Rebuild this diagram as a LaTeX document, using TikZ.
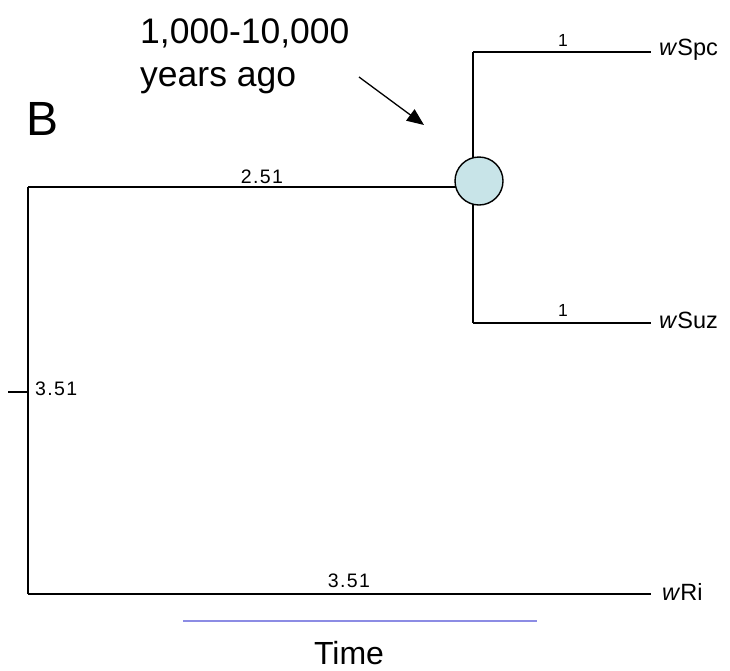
\documentclass[tikz,border=0pt]{standalone}
\usepackage{fontspec}
\setmainfont{Liberation Sans}
\newfontfamily\numfont[LetterSpace=7]{Liberation Sans}
\usetikzlibrary{arrows.meta}
\definecolor{nodefill}{RGB}{200,228,232}
\definecolor{timeblue}{RGB}{140,140,228}
\begin{document}
\begin{tikzpicture}[x=1pt,y=-1pt,
  branch/.style={line width=1.4pt, black},
  blab/.style={font=\numfont\fontsize{19.5}{19.5}\selectfont, anchor=base, inner sep=0pt},
  onelab/.style={font=\fontsize{17.5}{17.5}\selectfont, anchor=base, inner sep=0pt},
  taxon/.style={font=\fontsize{23.5}{23.5}\selectfont, anchor=base west, inner sep=0pt},
  bigtext/.style={font=\fontsize{35.5}{35.5}\selectfont, anchor=base west, inner sep=0pt},
  ancnode/.style={circle, draw, fill=nodefill, line width=1.4pt, minimum size=48pt, inner sep=0pt}]
\useasboundingbox (0,0) rectangle (730,670);

% coordinates
\coordinate (stub) at (8,392);
\coordinate (root) at (28,392);
\coordinate (rtop) at (28,187);
\coordinate (rbot) at (28,594);
\coordinate (ajoin) at (473,187);
\coordinate (atop) at (473,52);
\coordinate (abot) at (473,323);
\coordinate (spcend) at (651,52);
\coordinate (suzend) at (651,323);
\coordinate (riend) at (651,594);

% branches
\draw[branch] (stub) -- (root);
\draw[branch] (rtop) -- (rbot);
\draw[branch] (rtop) -- (ajoin);
\draw[branch] (atop) -- (abot);
\draw[branch] (atop) -- (spcend);
\draw[branch] (abot) -- (suzend);
\draw[branch] (rbot) -- (riend);

% ancestor node
\node[ancnode] (anc) at (479,181) {};

% branch labels
\node[blab] (l251) at (262,183) {2.51};
\node[blab, anchor=base west] (lroot) at (35,395) {3.51};
\node[blab] (lri) at (349,587) {3.51};
\node[onelab] (lspc) at (563,46) {1};
\node[onelab] (lsuz) at (563,316) {1};

% taxa
\node[taxon] (tspc) at (659,55) {\textit{w}Spc};
\node[taxon] (tsuz) at (659,328) {\textit{w}Suz};
\node[taxon] (tri) at (662,600) {\textit{w}Ri};

% annotation
\node[bigtext] (title1) at (140,43) {1,000-10,000};
\node[bigtext] (title2) at (140,86) {years ago};
\node[font=\fontsize{48}{48}\selectfont, anchor=base west, inner sep=0pt] (panel) at (26,135) {B};
\coordinate (arrs) at (359,77);
\coordinate (arre) at (424,125);
\draw[line width=1.3pt, -{Triangle[length=17pt,width=14pt]}] (arrs) -- (arre);

% time axis
\coordinate (tl) at (183,621);
\coordinate (tr) at (537,621);
\draw[timeblue, line width=2pt] (tl) -- (tr);
\node[font=\fontsize{32}{32}\selectfont, anchor=base, inner sep=0pt] (time) at (349,664) {Time};
\end{tikzpicture}
\end{document}
